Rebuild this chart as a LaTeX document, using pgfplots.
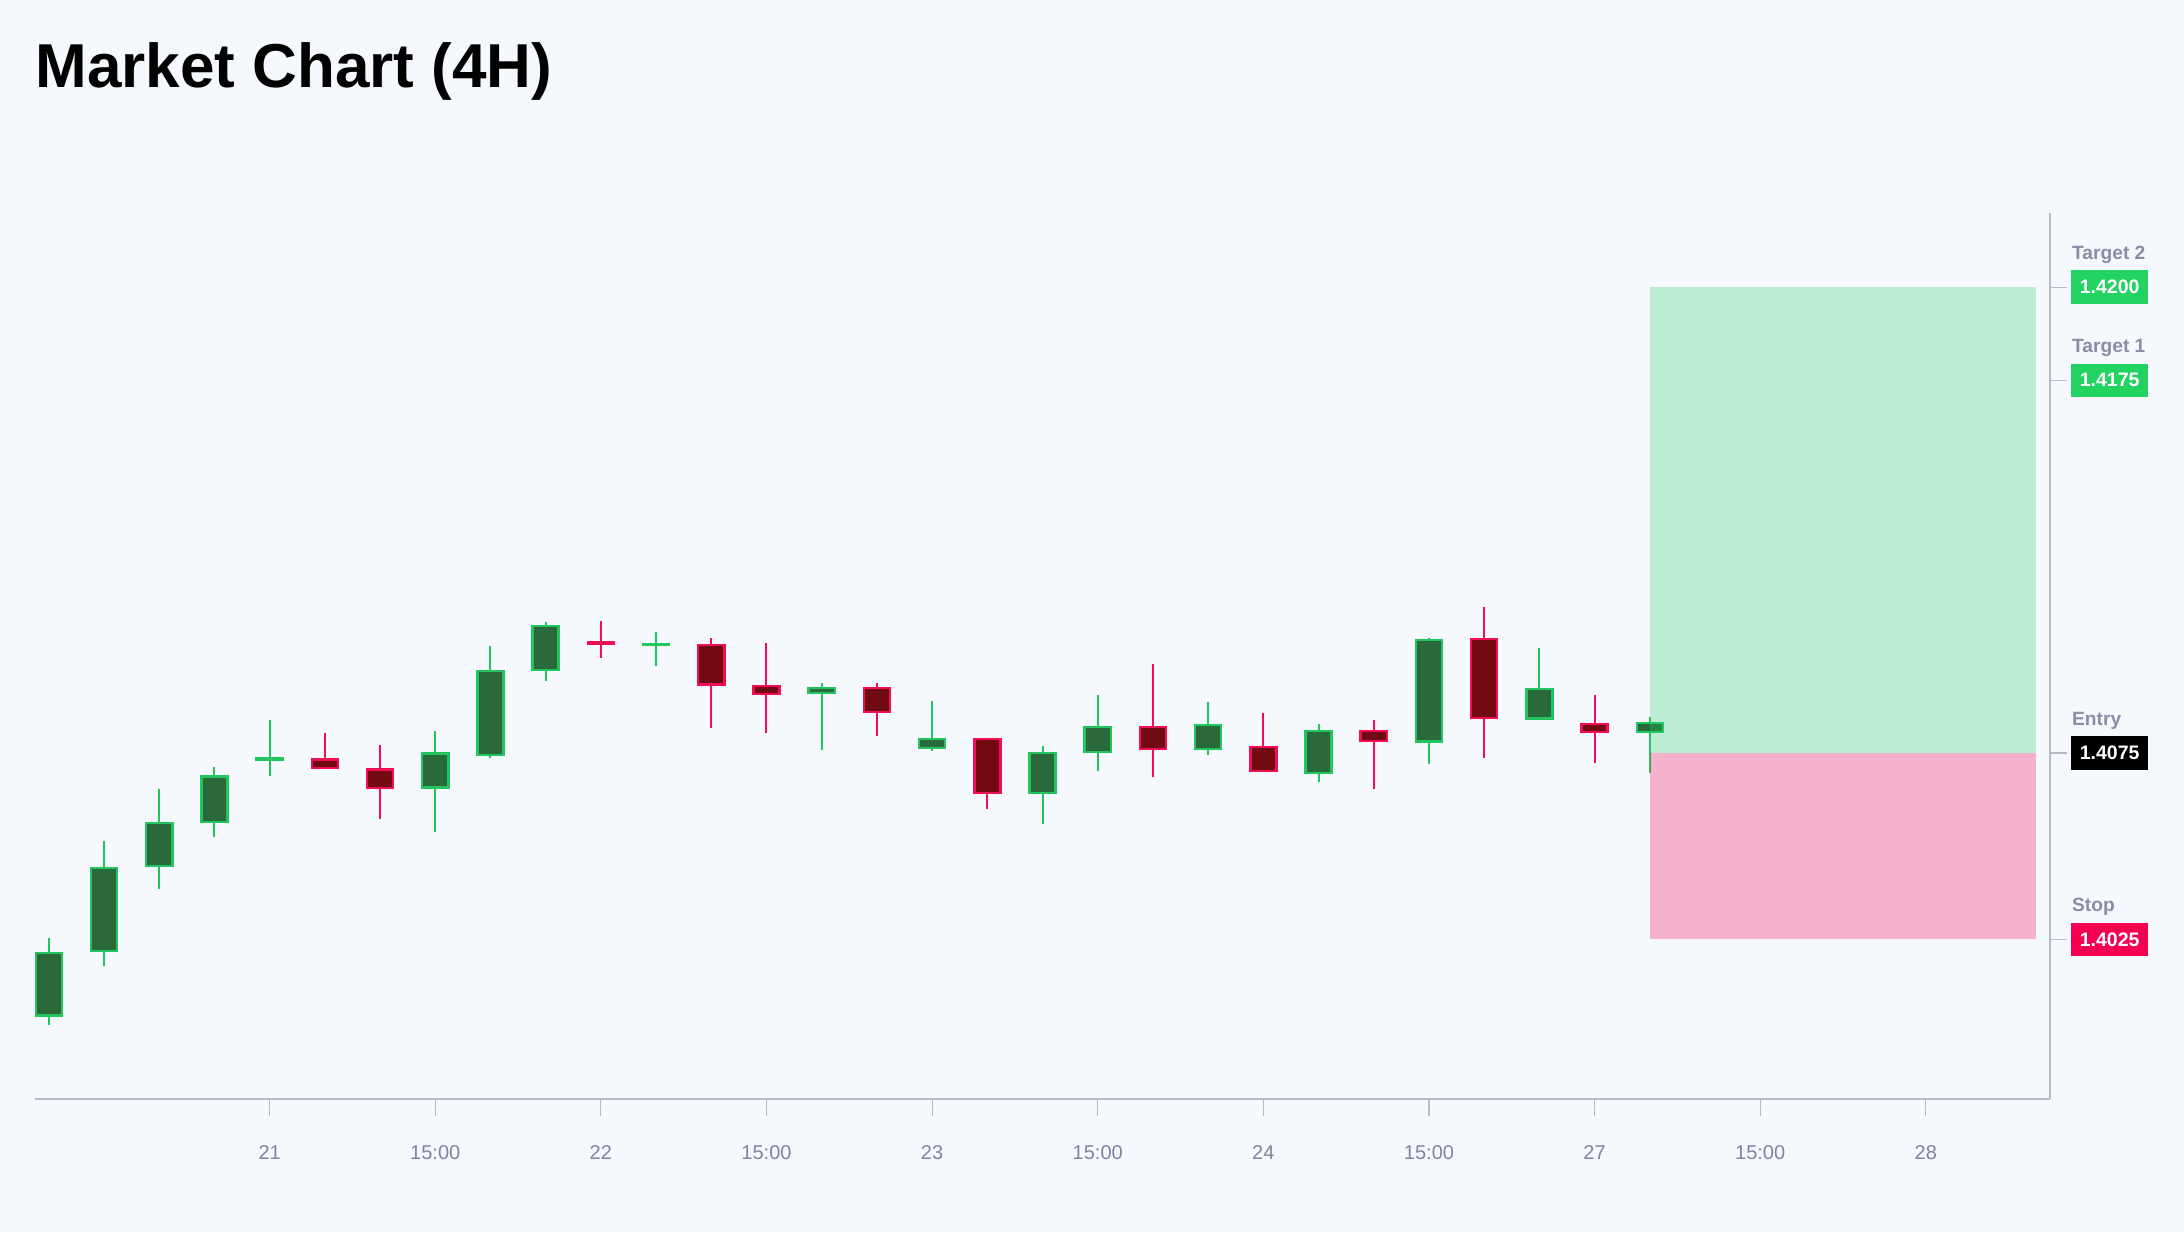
\documentclass[border=0pt]{standalone}
\usepackage{fontspec}
\setmainfont{Liberation Sans}
\usepackage{pgfplots}
\usepackage{pgfplotstable}
\pgfplotsset{compat=1.18}
\definecolor{bg}{HTML}{F5F8FC}
\definecolor{gup}{HTML}{22C55E}
\definecolor{gfill}{HTML}{29693A}
\definecolor{rdn}{HTML}{F20D55}
\definecolor{rfill}{HTML}{710A12}
\definecolor{axgray}{HTML}{B8BBC4}
\definecolor{lblgray}{HTML}{8A8DA6}
\definecolor{ticklbl}{HTML}{7F849F}
\definecolor{tgtgreen}{HTML}{22D362}
\definecolor{stopred}{HTML}{F50050}

\pgfplotstableread{
x O H L C inner
0 1.40043 1.40253 1.40021 1.40217 1
1 1.40217 1.40515 1.40180 1.40445 1
2 1.40444 1.40653 1.40385 1.40565 1
3 1.40562 1.40712 1.40526 1.40690 1
4 1.40729 1.40839 1.40689 1.40739 0
7 1.40655 1.40808 1.40537 1.40752 1
8 1.40743 1.41038 1.40738 1.40974 1
9 1.40970 1.41102 1.40944 1.41094 1
11 1.41036 1.41075 1.40983 1.41045 0
14 1.40908 1.40937 1.40758 1.40927 1
16 1.40760 1.40890 1.40756 1.40791 1
18 1.40639 1.40769 1.40559 1.40753 1
19 1.40749 1.40905 1.40702 1.40822 1
21 1.40757 1.40886 1.40745 1.40829 1
23 1.40693 1.40829 1.40673 1.40813 1
25 1.40778 1.41058 1.40720 1.41056 1
27 1.40840 1.41031 1.40840 1.40924 1
29 1.40803 1.40846 1.40697 1.40833 1
}\greenT

\pgfplotstableread{
x O H L C inner
5 1.40736 1.40804 1.40707 1.40707 1
6 1.40709 1.40771 1.40572 1.40654 1
10 1.41050 1.41105 1.41004 1.41041 0
12 1.41044 1.41058 1.40817 1.40931 1
13 1.40933 1.41045 1.40803 1.40906 1
15 1.40928 1.40939 1.40797 1.40857 1
17 1.40790 1.40790 1.40601 1.40639 1
20 1.40824 1.40990 1.40685 1.40758 1
22 1.40770 1.40858 1.40698 1.40698 1
24 1.40813 1.40838 1.40653 1.40779 1
26 1.41060 1.41141 1.40736 1.40841 1
28 1.40830 1.40905 1.40724 1.40804 1
}\redT

\tikzset{
  badge/.style={anchor=west, xshift=10.35pt, minimum width=38.5pt, minimum height=16.7pt,
    inner sep=0pt, text=white, font=\bfseries\fontsize{9.75}{10}\selectfont},
  lbl/.style={anchor=base west, xshift=10.85pt, yshift=14pt, inner sep=0pt,
    text=lblgray, font=\bfseries\fontsize{9.6}{11}\selectfont},
}
\pgfplotsset{
  candle/.style={only marks, mark size=0pt, mark options={draw=none, fill=none}, forget plot},
}

\begin{document}
\begin{tikzpicture}
\fill[bg] (0,0) rectangle (1092pt,616pt);
\node[anchor=base west, inner sep=0pt, font=\bfseries\fontsize{31}{36}\selectfont] at (17.5pt,572pt) {Market Chart (4H)};
\begin{axis}[
  at={(17.5pt,66.5pt)}, anchor=south west,
  scale only axis, width=1007.5pt, height=443pt,
  xmin=-0.25, xmax=36.25, ymin=1.39822, ymax=1.42199,
  axis x line*=bottom, axis y line*=right,
  axis line style={axgray, line width=1pt, -},
  xtick={4,7,10,13,16,19,22,25,28,31,34},
  xticklabels={21,15:00,22,15:00,23,15:00,24,15:00,27,15:00,28},
  ytick={1.4025,1.4075,1.4175,1.42}, yticklabels={},
  tick align=outside, major tick length=8.5pt,
  tick style={axgray, line width=0.6pt},
  xticklabel style={font=\fontsize{10}{12}\selectfont, text=ticklbl, anchor=base, yshift=-21.5pt},
  clip=false,
]
% wicks
\addplot[candle, error bars/.cd, y dir=plus, y explicit, error mark=none,
  error bar style={line width=1pt, gup}]
  table[x=x, y=L, y error expr=\thisrow{H}-\thisrow{L}] {\greenT};
\addplot[candle, error bars/.cd, y dir=plus, y explicit, error mark=none,
  error bar style={line width=1pt, rdn}]
  table[x=x, y=L, y error expr=\thisrow{H}-\thisrow{L}] {\redT};
% outer bodies
\addplot[candle, error bars/.cd, y dir=plus, y explicit, error mark=none,
  error bar style={line width=14.3pt, gup}]
  table[x=x, y=O, y error expr=\thisrow{C}-\thisrow{O}] {\greenT};
\addplot[candle, error bars/.cd, y dir=plus, y explicit, error mark=none,
  error bar style={line width=14.3pt, rdn}]
  table[x=x, y=C, y error expr=\thisrow{O}-\thisrow{C}] {\redT};
% inner bodies
\addplot[candle, restrict expr to domain={\thisrow{inner}}{0.5:1.5},
  error bars/.cd, y dir=plus, y explicit, error mark=none,
  error bar style={line width=11.8pt, gfill, shorten <=1.1pt, shorten >=1.1pt}]
  table[x=x, y=O, y error expr=\thisrow{C}-\thisrow{O}] {\greenT};
\addplot[candle, restrict expr to domain={\thisrow{inner}}{0.5:1.5},
  error bars/.cd, y dir=plus, y explicit, error mark=none,
  error bar style={line width=11.8pt, rfill, shorten <=1.1pt, shorten >=1.1pt}]
  table[x=x, y=C, y error expr=\thisrow{O}-\thisrow{C}] {\redT};
% target / stop zones
\addplot[draw=none, fill=tgtgreen, fill opacity=0.27, forget plot]
  coordinates {(29,1.4075) (36,1.4075) (36,1.42) (29,1.42)};
\addplot[draw=none, fill=stopred, fill opacity=0.28, forget plot]
  coordinates {(29,1.4025) (36,1.4025) (36,1.4075) (29,1.4075)};
% right labels
\node[lbl] at (axis cs:36.25,1.42) {Target 2};
\node[badge, fill=tgtgreen] at (axis cs:36.25,1.42) {1.4200};
\node[lbl] at (axis cs:36.25,1.4175) {Target 1};
\node[badge, fill=tgtgreen] at (axis cs:36.25,1.4175) {1.4175};
\node[lbl] at (axis cs:36.25,1.4075) {Entry};
\node[badge, fill=black] at (axis cs:36.25,1.4075) {1.4075};
\node[lbl] at (axis cs:36.25,1.4025) {Stop};
\node[badge, fill=stopred] at (axis cs:36.25,1.4025) {1.4025};
\end{axis}
\end{tikzpicture}
\end{document}
